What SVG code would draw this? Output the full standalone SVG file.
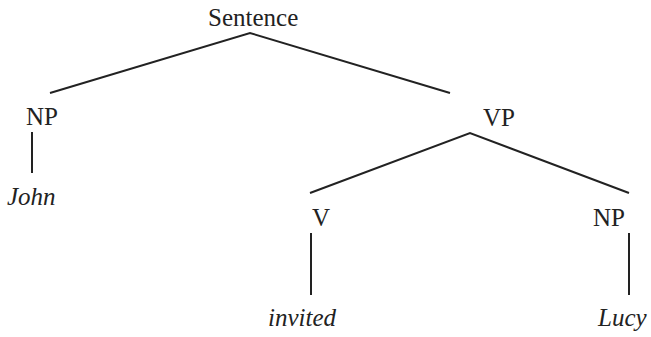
<svg xmlns="http://www.w3.org/2000/svg" width="651" height="337" viewBox="0 0 651 337">
<style>
text{font-family:"Liberation Serif","Times New Roman",serif;font-size:25px;fill:#222}
.it{font-style:italic}
#edges line,#edges polyline{stroke:#222;stroke-width:2;fill:none}
</style>
<rect width="651" height="337" fill="#fff"/>
<g id="edges">
<polyline points="50,93 250,33 450,93"/>
<line x1="32" y1="132" x2="32" y2="173"/>
<polyline points="310,193 470,133 629,193"/>
<line x1="311" y1="233" x2="311" y2="295"/>
<line x1="629" y1="233" x2="629" y2="295"/>
</g>
<g id="sentence"><text x="208" y="26">Sentence</text></g>
<g id="np1"><text x="26" y="125">NP</text></g>
<g id="john"><text class="it" x="7" y="205">John</text></g>
<g id="vp"><text x="483" y="126">VP</text></g>
<g id="v"><text x="312" y="226">V</text></g>
<g id="np2"><text x="593" y="226">NP</text></g>
<g id="invited"><text class="it" x="268" y="326">invited</text></g>
<g id="lucy"><text class="it" x="598" y="326">Lucy</text></g>
</svg>
